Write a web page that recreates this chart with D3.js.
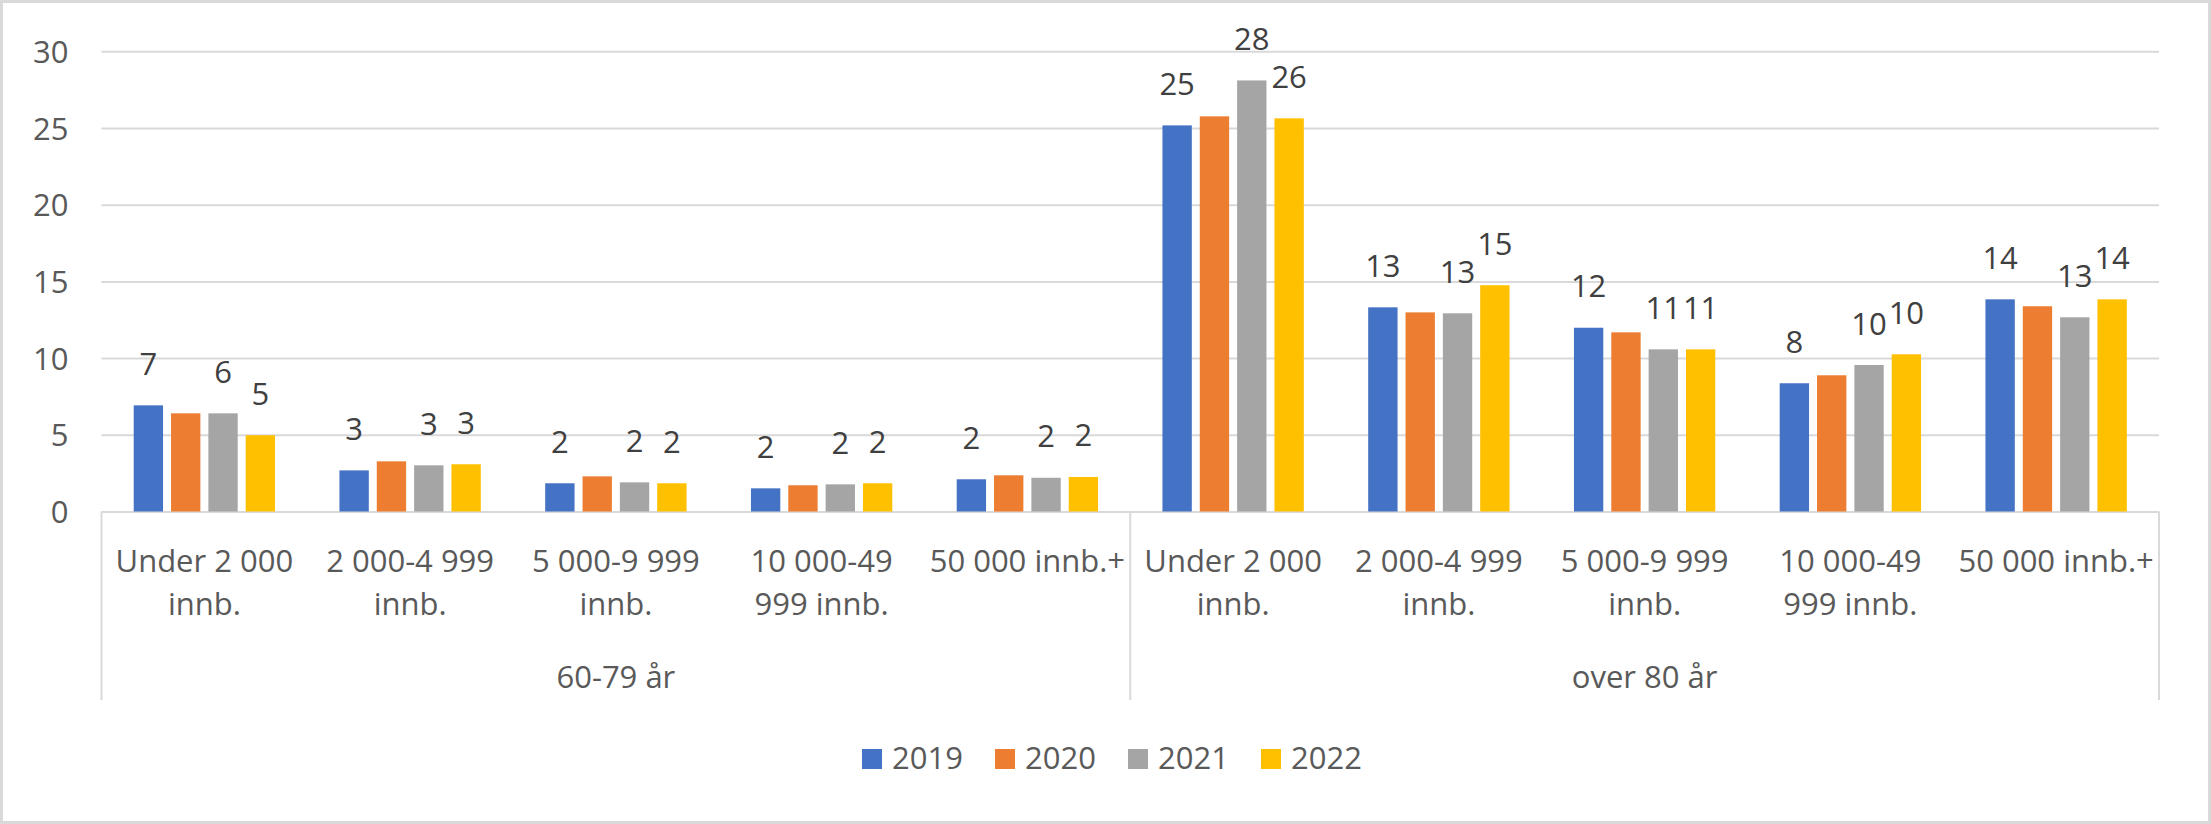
<!DOCTYPE html>
<html>
<head>
<meta charset="utf-8">
<script src="https://cdn.jsdelivr.net/npm/d3@7"></script>
<style>
  body { margin: 0; background: #fff; }
  text { font-family: "Open Sans", sans-serif; }
</style>
</head>
<body>
<div id="chart"></div>
<script>
// data
var ageGroups = ["60-79 år", "over 80 år"];
var sizes = ["Under 2 000 innb.", "2 000-4 999 innb.", "5 000-9 999 innb.", "10 000-49 999 innb.", "50 000 innb.+"];
var sizeLines = [["Under 2 000", "innb."], ["2 000-4 999", "innb."], ["5 000-9 999", "innb."], ["10 000-49", "999 innb."], ["50 000 innb.+"]];
var years = ["2019", "2020", "2021", "2022"];
var colors = ["#4472c4", "#ed7d31", "#a5a5a5", "#ffc000"];
// one value per age group x size (60-79 first, then over 80)
var v2019 = [6.92, 2.68, 1.84, 1.51, 2.10, 25.17, 13.31, 11.98, 8.36, 13.83];
var v2020 = [6.40, 3.27, 2.29, 1.71, 2.36, 25.76, 12.98, 11.68, 8.88, 13.38];
var v2021 = [6.40, 3.01, 1.90, 1.77, 2.20, 28.10, 12.92, 10.57, 9.55, 12.66];
var v2022 = [4.97, 3.08, 1.84, 1.84, 2.25, 25.63, 14.75, 10.57, 10.25, 13.83];
var yTicks = [0, 5, 10, 15, 20, 25, 30];
// 2020 has no data labels in the original
var labelled = ["2019", "2021", "2022"];

var width = 2211, height = 824;
var svg = d3.select("#chart").append("svg")
    .attr("width", width)
    .attr("height", height);

svg.append("rect")
    .attr("x", 1.5).attr("y", 1.5)
    .attr("width", width - 3).attr("height", height - 3)
    .attr("fill", "#fff")
    .attr("stroke", "#d9d9d9")
    .attr("stroke-width", 3);

var plotLeft = 101.5, plotRight = 2159, plotTop = 51.3, plotBottom = 511.5;

var cats = [];
ageGroups.forEach(function(g) {
    sizes.forEach(function(s) { cats.push(g + "|" + s); });
});
var series = [v2019, v2020, v2021, v2022];
var rows = cats.map(function(c, i) {
    var r = { key: c };
    years.forEach(function(y, j) { r[y] = series[j][i]; });
    return r;
});

var x0 = d3.scaleBand().domain(cats).range([plotLeft, plotRight]);
var span = x0.bandwidth() * 0.687;
var x1 = d3.scaleBand().domain(years)
    .range([(x0.bandwidth() - span) / 2, (x0.bandwidth() + span) / 2])
    .paddingInner(0.214);
var y = d3.scaleLinear().domain([0, 30]).range([plotBottom, plotTop]);
var color = d3.scaleOrdinal().domain(years).range(colors);

// gridlines + y labels
var yAxis = svg.append("g")
    .attr("transform", "translate(" + plotLeft + ",0)")
    .call(d3.axisLeft(y).tickValues(yTicks).tickSize(-(plotRight - plotLeft)).tickPadding(33));
yAxis.select(".domain").remove();
yAxis.selectAll(".tick line").attr("stroke", "#d9d9d9").attr("stroke-width", 2);
yAxis.selectAll(".tick text")
    .attr("fill", "#595959")
    .style("font-size", "31px")
    .attr("dy", "0.36em");

// category axis separators
var sepX = [plotLeft, (plotLeft + plotRight) / 2, plotRight];
sepX.forEach(function(sx) {
    svg.append("line")
        .attr("x1", sx).attr("x2", sx)
        .attr("y1", plotBottom).attr("y2", 700)
        .attr("stroke", "#d9d9d9").attr("stroke-width", 2);
});

// bars
var groups = svg.selectAll(".cat")
    .data(rows)
    .enter().append("g")
    .attr("class", "cat")
    .attr("transform", function(d) { return "translate(" + x0(d.key) + ",0)"; });

groups.selectAll("rect")
    .data(function(d) { return years.map(function(yr) { return { year: yr, value: d[yr] }; }); })
    .enter().append("rect")
    .attr("x", function(d) { return x1(d.year); })
    .attr("y", function(d) { return y(d.value); })
    .attr("width", x1.bandwidth())
    .attr("height", function(d) { return plotBottom - y(d.value); })
    .attr("fill", function(d) { return color(d.year); });

groups.selectAll(".lbl")
    .data(function(d) {
        return labelled.map(function(yr) { return { year: yr, value: d[yr] }; });
    })
    .enter().append("text")
    .attr("class", "lbl")
    .attr("x", function(d) { return x1(d.year) + x1.bandwidth() / 2; })
    .attr("y", function(d) { return y(d.value) - 30.5; })
    .attr("text-anchor", "middle")
    .attr("fill", "#404040")
    .style("font-size", "31px")
    .text(function(d) { return d3.format(".0f")(d.value); });

// size labels
cats.forEach(function(c, i) {
    var lines = sizeLines[i % sizes.length];
    var t = svg.append("text")
        .attr("text-anchor", "middle")
        .attr("fill", "#595959")
        .style("font-size", "31px");
    lines.forEach(function(l, k) {
        t.append("tspan")
            .attr("x", x0(c) + x0.bandwidth() / 2)
            .attr("y", 571.7 + k * 43.3)
            .text(l);
    });
});

// age group labels
ageGroups.forEach(function(g, i) {
    var first = x0(g + "|" + sizes[0]);
    var last = x0(g + "|" + sizes[sizes.length - 1]) + x0.bandwidth();
    svg.append("text")
        .attr("x", (first + last) / 2)
        .attr("y", 687.7)
        .attr("text-anchor", "middle")
        .attr("fill", "#595959")
        .style("font-size", "31px")
        .text(g);
});

// legend
var legend = svg.append("g").attr("transform", "translate(862,749)");
years.forEach(function(yr, i) {
    var item = legend.append("g").attr("transform", "translate(" + (i * 133) + ",0)");
    item.append("rect")
        .attr("width", 20).attr("height", 20)
        .attr("fill", color(yr));
    item.append("text")
        .attr("x", 30).attr("y", 20)
        .attr("fill", "#595959")
        .style("font-size", "31px")
        .text(yr);
});
</script>
</body>
</html>
